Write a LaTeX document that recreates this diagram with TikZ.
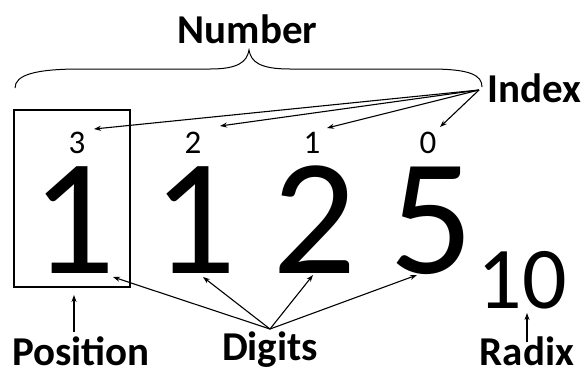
\documentclass[tikz,border=0pt]{standalone}
\usepackage{fontspec}
\setmainfont{Carlito}
\usetikzlibrary{arrows.meta}
\begin{document}
\begin{tikzpicture}[x=1pt,y=-1pt,
  lbl/.style={font=\fontsize{41}{41}\selectfont\bfseries, inner sep=0pt, anchor=base},
  big/.style={font=\fontsize{166}{166}\selectfont, inner sep=0pt, anchor=base, text height=105pt, text depth=0pt},
  idx/.style={font=\fontsize{33}{33}\selectfont, inner sep=0pt, anchor=base, text height=21pt, text depth=0pt},
  rad/.style={font=\fontsize{88}{88}\selectfont, inner sep=0pt, anchor=base, text height=56pt, text depth=0pt},
  arr/.style={-{Stealth[length=7pt,width=5pt]}, line width=1.1pt},
  brace/.style={line width=1pt}]
\useasboundingbox (0,0) rectangle (586,368);
% labels
\node[lbl] (number) at (247.5,43) {Number};
\node[lbl, anchor=base west] (index) at (487,102) {Index};
\node[lbl, text depth=0pt] (position) at (81,365) {Position};
\node[lbl, text depth=7pt] (digits) at (270,360) {Digits};
\node[lbl, text depth=0pt] (radix) at (527,365) {Radix};
% big digits
\node[big] (d3) at (74,273) {1};
\node[big] (d2) at (195,273) {1};
\node[big] (d1) at (315,273) {2};
\node[big] (d0) at (432,273) {5};
\node[rad] (ten) at (522,308) {10};
% index numbers
\node[idx] (i3) at (77,153) {3};
\node[idx] (i2) at (193,153) {2};
\node[idx] (i1) at (312,153) {1};
\node[idx] (i0) at (428,153) {0};
% box
\draw[line width=2.5pt] (14,110) rectangle (130,287);
% brace
\draw[brace] (15,88) .. controls (15,75) and (35,69) .. (80,69) -- (210,69)
  .. controls (238,69) and (247,62) .. (249,50)
  .. controls (251,62) and (260,69) .. (290,69) -- (430,69)
  .. controls (470,69) and (482,75) .. (482,87);
% coordinates
\coordinate (io) at (479,90);
\coordinate (t3) at (94,129);
\coordinate (t2) at (220,126);
\coordinate (t1) at (327,128);
\coordinate (t0) at (440,127);
\coordinate (do) at (270,329);
\coordinate (u3) at (113,277);
\coordinate (u2) at (203,277);
\coordinate (u1) at (313,275);
\coordinate (u0) at (417,275);
\coordinate (po) at (74,332);
\coordinate (pt) at (74,295);
\coordinate (ro) at (527,342);
\coordinate (rt) at (527,313);
% index arrows
\draw[arr] (io) -- (t3);
\draw[arr] (io) -- (t2);
\draw[arr] (io) -- (t1);
\draw[arr] (io) -- (t0);
% digit arrows
\draw[arr] (do) -- (u3);
\draw[arr] (do) -- (u2);
\draw[arr] (do) -- (u1);
\draw[arr] (do) -- (u0);
% position & radix
\draw[arr] (po) -- (pt);
\draw[arr] (ro) -- (rt);
\end{tikzpicture}
\end{document}
